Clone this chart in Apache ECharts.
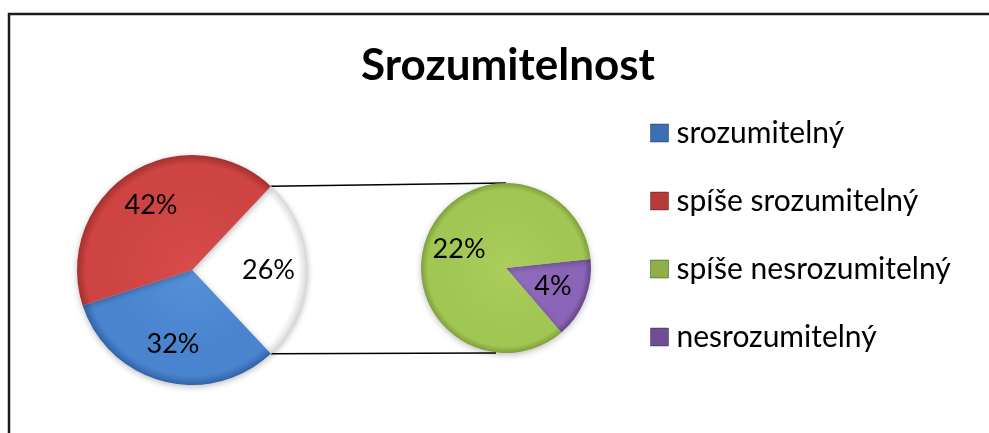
<!DOCTYPE html>
<html>
<head>
<meta charset="utf-8">
<script src="https://cdn.jsdelivr.net/npm/echarts@6/dist/echarts.min.js"></script>
<style>
  html, body { margin: 0; padding: 0; background: #fff; }
  #chart { width: 989px; height: 433px; }
</style>
</head>
<body>
<div id="chart"></div>
<script>
// kategorie a hodnoty (v %)
var categories = ['srozumitelný', 'spíše srozumitelný', 'spíše nesrozumitelný', 'nesrozumitelný']
var mainValues = [32, 42]      // srozumitelný, spíše srozumitelný
var subValues = [22, 4]        // spíše nesrozumitelný, nesrozumitelný
var otherName = 'ostatní'

var colors = {
  'srozumitelný': ['#5590d8', '#4a84cf', '#2f63a8'],
  'spíše srozumitelný': ['#d84c4b', '#cd4443', '#a3302e'],
  'spíše nesrozumitelný': ['#aacd5c', '#a2c653', '#7f9f3a'],
  'nesrozumitelný': ['#936ebf', '#8a64b6', '#654588']
}
var legendColors = ['#3b6fb3', '#b83b3a', '#8fb047', '#6e4f96']

// geometrie
var c1 = [192, 270], r1 = 115
var c2 = [506, 268], r2 = 85

var otherValue = subValues.reduce(function (a, b) { return a + b }, 0)
var total = mainValues.reduce(function (a, b) { return a + b }, 0) + otherValue
var halfOther = otherValue / total * 180

function grad(c, r, cols) {
  return {
    type: 'radial', x: c[0], y: c[1], r: r, global: true,
    colorStops: [
      { offset: 0, color: cols[0] },
      { offset: 0.7, color: cols[1] },
      { offset: 0.92, color: cols[1] },
      { offset: 1, color: cols[2] }
    ]
  }
}

// hlavní koláč: ostatní, srozumitelný, spíše srozumitelný (po směru hodin)
var mainData = [{
  name: otherName, value: otherValue,
  itemStyle: { color: grad(c1, r1, ['#ffffff', '#ffffff', '#e2e2e2']), borderColor: '#d8d8d8', borderWidth: 1 }
}, {
  name: categories[0], value: mainValues[0], itemStyle: { color: grad(c1, r1, colors[categories[0]]) }
}, {
  name: categories[1], value: mainValues[1], itemStyle: { color: grad(c1, r1, colors[categories[1]]) }
}]

var subData = [{
  name: categories[3], value: subValues[1], itemStyle: { color: grad(c2, r2, colors[categories[3]]) }
}, {
  name: categories[2], value: subValues[0], itemStyle: { color: grad(c2, r2, colors[categories[2]]) }
}]

function plain(data) {
  return data.map(function (d) { return { name: d.name, value: d.value } })
}

var labelStyle = {
  show: true, position: 'inside', formatter: '{c}%',
  fontFamily: 'Lato', fontSize: 27, color: '#000'
}

// spojovací čáry
var a = halfOther * Math.PI / 180
var topPt = [c1[0] + r1 * Math.cos(a), c1[1] - r1 * Math.sin(a)]
var botPt = [c1[0] + r1 * Math.cos(a), c1[1] + r1 * Math.sin(a)]

var chart = echarts.init(document.getElementById('chart'))
chart.setOption({
  animation: false,
  title: {
    text: 'Srozumitelnost',
    left: 503, top: 39, textAlign: 'center',
    textStyle: { fontFamily: 'Lato', fontWeight: 'bold', fontSize: 44, color: '#000' }
  },
  legend: {
    orient: 'vertical',
    left: 645, top: 112,
    itemWidth: 18, itemHeight: 18, itemGap: 36,
    icon: 'rect',
    textStyle: { fontFamily: 'Lato', fontSize: 30, color: '#000', lineHeight: 32, padding: [0, 0, 0, 3] },
    data: categories.map(function (n, i) {
      return { name: n, itemStyle: { color: legendColors[i], borderColor: 'rgba(0,0,0,0.35)', borderWidth: 1 } }
    })
  },
  graphic: [
    { type: 'rect', z: -10, shape: { x: 9, y: 14, width: 1200, height: 800 }, style: { fill: 'none', stroke: '#1c1c1c', lineWidth: 2.5 } },
    { type: 'line', z: 0, shape: { x1: topPt[0], y1: topPt[1], x2: c2[0], y2: c2[1] - r2 }, style: { stroke: '#000', lineWidth: 1.5 } },
    { type: 'line', z: 0, shape: { x1: botPt[0], y1: botPt[1], x2: c2[0] - 10, y2: c2[1] + r2 }, style: { stroke: '#000', lineWidth: 1.5 } }
  ],
  series: [{
    type: 'pie', center: c1, radius: r1, startAngle: halfOther, clockwise: true,
    label: { show: false }, silent: true, z: 2,
    itemStyle: { shadowBlur: 6, shadowColor: 'rgba(0,0,0,0.25)', shadowOffsetY: 2 },
    data: mainData
  }, {
    type: 'pie', center: c2, radius: r2, startAngle: 6, clockwise: true,
    label: { show: false }, silent: true, z: 2,
    itemStyle: { shadowBlur: 6, shadowColor: 'rgba(0,0,0,0.25)', shadowOffsetY: 2 },
    data: subData
  }, {
    // popisky hlavního koláče
    type: 'pie', center: c1, radius: [32, r1], startAngle: halfOther, clockwise: true,
    silent: true, z: 3, itemStyle: { color: 'transparent' }, emphasis: { disabled: true },
    label: labelStyle, labelLine: { show: false },
    data: plain(mainData)
  }, {
    // popisky vedlejšího koláče
    type: 'pie', center: c2, radius: [10, r2], startAngle: 6, clockwise: true,
    silent: true, z: 3, itemStyle: { color: 'transparent' }, emphasis: { disabled: true },
    label: labelStyle, labelLine: { show: false },
    data: plain(subData)
  }]
})
</script>
</body>
</html>
